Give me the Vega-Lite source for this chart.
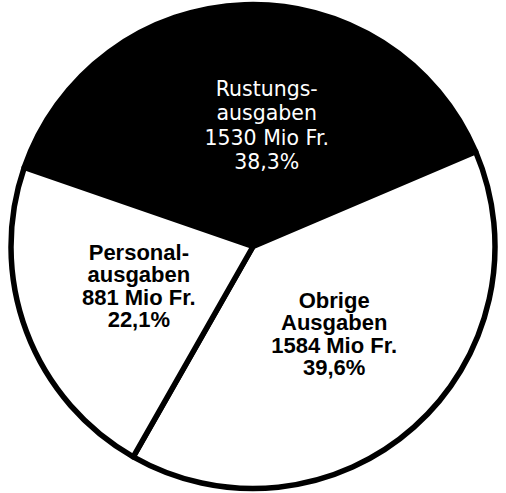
{
  "$schema": "https://vega.github.io/schema/vega-lite/v6.json",
  "width": 506,
  "height": 493,
  "autosize": {"type": "fit", "contains": "padding"},
  "padding": 0,
  "background": "white",
  "config": {"view": {"stroke": null}},
  "data": {
    "values": [
      {"cat": "R", "order": 1, "value": 1530, "label": "Rustungs-\nausgaben\n1530 Mio Fr.\n38,3%"},
      {"cat": "U", "order": 2, "value": 1584, "label": "Obrige\nAusgaben\n1584 Mio Fr.\n39,6%"},
      {"cat": "P", "order": 3, "value": 881, "label": "Personal-\nausgaben\n881 Mio Fr.\n22,1%"}
    ]
  },
  "encoding": {
    "theta": {"field": "value", "type": "quantitative", "stack": true, "scale": {"range": [-1.2383, 5.0449]}},
    "order": {"field": "order", "type": "quantitative"}
  },
  "layer": [
    {
      "mark": {"type": "arc", "outerRadius": 242, "stroke": "black", "strokeWidth": 5.5, "strokeJoin": "round"},
      "encoding": {
        "color": {"field": "cat", "type": "nominal", "scale": {"domain": ["R", "U", "P"], "range": ["black", "white", "white"]}, "legend": null}
      }
    },
    {
      "mark": {"type": "text", "radius": 122, "font": "DejaVu Sans", "fontSize": 20.5, "lineHeight": 24.5, "lineBreak": "\n", "align": "center", "baseline": "middle", "fill": "white", "dx": 18, "dy": -35},
      "encoding": {
        "text": {"field": "label", "type": "nominal"},
        "opacity": {"condition": {"test": "datum.cat === 'R'", "value": 1}, "value": 0}
      }
    },
    {
      "mark": {"type": "text", "radius": 122, "font": "Liberation Sans", "fontWeight": "bold", "fontSize": 22, "lineHeight": 22.5, "lineBreak": "\n", "align": "center", "baseline": "middle", "fill": "black", "dy": -37},
      "encoding": {
        "text": {"field": "label", "type": "nominal"},
        "opacity": {"condition": {"test": "datum.cat === 'R'", "value": 0}, "value": 1}
      }
    }
  ]
}
